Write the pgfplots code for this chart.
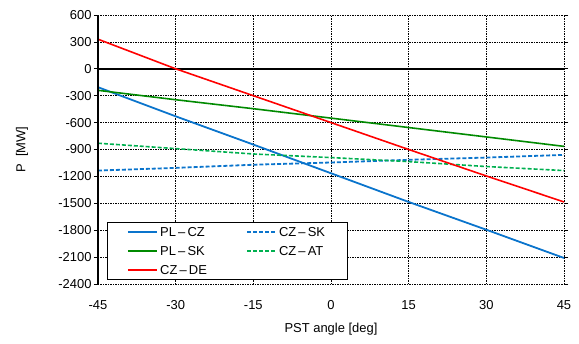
\documentclass[border=0pt]{standalone}
\usepackage{pgfplots}
\pgfplotsset{compat=1.18}
\usepackage{fontspec}
\setmainfont{Liberation Sans}
\definecolor{cblue}{HTML}{0A74CC}
\definecolor{cgreen}{HTML}{008A00}
\definecolor{cred}{HTML}{FF0000}
\definecolor{clgreen}{HTML}{00B050}
\begin{document}
\begin{tikzpicture}
\begin{axis}[
  scale only axis, width=466bp, height=269bp,
  xmin=-45, xmax=45, ymin=-2400, ymax=600,
  xtick={-45,-30,...,45}, ytick={-2400,-2100,...,600},
  font=\fontsize{13}{15}\selectfont,
  /pgf/number format/assume math mode=true,
  /pgf/number format/set thousands separator={},
  axis line style={draw=none},
  grid=major,
  major grid style={black, line width=0.5pt, dash pattern=on 1.5pt off 1pt},
  xtick style={draw=none},
  ytick style={black, line width=0.6pt},
  tick align=outside, major tick length=4bp,
  yticklabel style={xshift=1bp},
  xticklabel style={yshift=-9bp},
  every axis x label/.style={at={(axis description cs:0.5,-0.167)},anchor=center},
  every axis y label/.style={at={(axis description cs:-0.163,0.5)},rotate=90,anchor=center},
  xlabel={PST angle [deg]},
  ylabel={P\ \ [MW]},
  clip=false,
]
\addplot[black, line width=1.6pt, forget plot] coordinates {(-45,0) (45,0)};
\addplot[cblue, line width=1.8pt] coordinates {(-45,-205) (-30,-530) (-15,-845) (0,-1165) (15,-1485) (30,-1795) (45,-2110)};
\addplot[cblue, line width=1.8pt, dash pattern=on 4pt off 2pt] coordinates {(-45,-1135) (-30,-1105) (-15,-1070) (0,-1045) (15,-1015) (30,-990) (45,-960)};
\addplot[cgreen, line width=1.6pt] coordinates {(-45,-240) (-30,-345) (-15,-445) (0,-550) (15,-655) (30,-760) (45,-865)};
\addplot[clgreen, line width=1.6pt, dash pattern=on 4pt off 2pt] coordinates {(-45,-830) (-30,-890) (-15,-950) (0,-990) (15,-1035) (30,-1090) (45,-1135)};
\addplot[cred, line width=1.6pt] coordinates {(-45,330) (-30,0) (-15,-300) (0,-600) (15,-900) (30,-1195) (45,-1485)};
\addplot[black, line width=1.6pt, forget plot] coordinates {(-45,-2400) (-45,600)};
% legend (drawn by hand: box, keys, then texts)
\addplot[draw=black, line width=0.7pt, fill=white, forget plot] coordinates {(-43.29,-2343) (3.24,-2343) (3.24,-1710) (-43.29,-1710)} -- cycle;
\addplot[cblue, line width=1.8pt, forget plot] coordinates {(-39.24,-1824) (-33.57,-1824)};
\addplot[cgreen, line width=1.6pt, forget plot] coordinates {(-39.24,-2031) (-33.57,-2031)};
\addplot[cred, line width=1.6pt, forget plot] coordinates {(-39.24,-2241) (-33.57,-2241)};
\addplot[cblue, line width=1.8pt, dash pattern=on 4pt off 2pt, forget plot] coordinates {(-16.2,-1824) (-10.62,-1824)};
\addplot[clgreen, line width=1.6pt, dash pattern=on 4pt off 2pt, forget plot] coordinates {(-16.2,-2031) (-10.62,-2031)};
\node[anchor=west, inner sep=0pt] at (axis description cs:0.133,0.192) {PL\,–\,CZ};
\node[anchor=west, inner sep=0pt] at (axis description cs:0.133,0.123) {PL\,–\,SK};
\node[anchor=west, inner sep=0pt] at (axis description cs:0.133,0.053) {CZ\,–\,DE};
\node[anchor=west, inner sep=0pt] at (axis description cs:0.388,0.192) {CZ\,–\,SK};
\node[anchor=west, inner sep=0pt] at (axis description cs:0.388,0.123) {CZ\,–\,AT};
\coordinate (ll) at (rel axis cs:0,0);
\coordinate (ur) at (rel axis cs:1,1);
\end{axis}
\useasboundingbox ([shift={(-98bp,-60bp)}]ll) rectangle ([shift={(15bp,15bp)}]ur);
\end{tikzpicture}
\end{document}
